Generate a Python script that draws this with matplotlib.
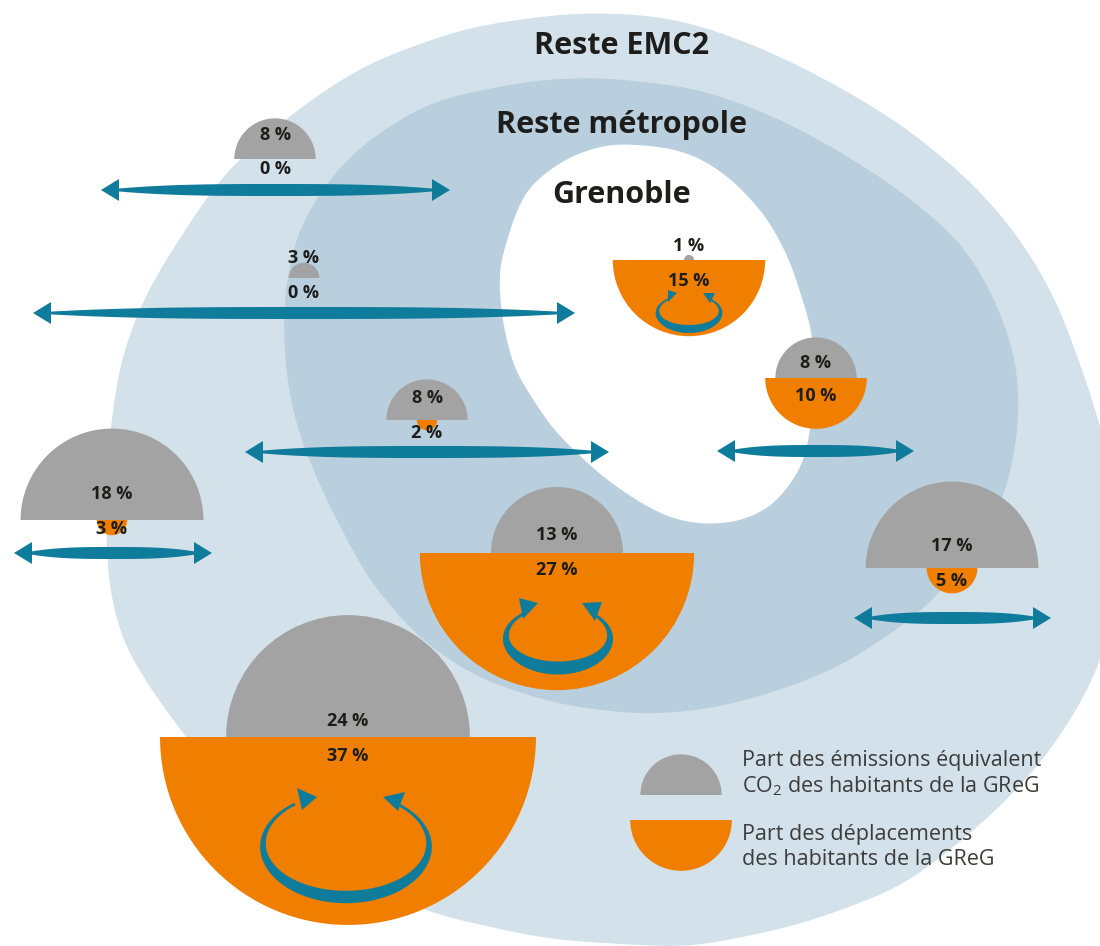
import numpy as np
import matplotlib
matplotlib.use("Agg")
import matplotlib.pyplot as plt
from matplotlib.patches import Wedge, Polygon

plt.rcParams['font.family'] = ['Open Sans', 'DejaVu Sans']
plt.rcParams['mathtext.default'] = 'regular'

# Data: share of CO2-eq emissions and share of trips per flow
flows = ['EMC2-Gre_far', 'EMC2-Gre', 'Gre-Gre', 'Met-Gre', 'Met-Gre2', 'Met-EMC2', 'Met-Met', 'EMC2-Met', 'EMC2-EMC2']
emissions = [8, 3, 1, 8, 8, 18, 13, 17, 24]
trips = [0, 0, 15, 10, 2, 3, 27, 5, 37]

# Layout (pixel coordinates)
R_PER_PCT = 5.08
center_x = [275, 304, 689, 816, 427, 112, 557, 952, 348]
center_y = [159, 278, 260, 378, 420, 520, 553, 568, 737]
label_top_y = [135, 258, 246, 363, 398, 494, 535, 546, 721]
label_bot_y = [169, 293, 281, 396, 433, 529, 570, 581, 756]

arrow_left = [101, 33, 245, 717, 14, 854]
arrow_right = [450, 575, 609, 914, 212, 1051]
arrow_y = [190, 313, 452, 451, 553, 618]

loop_cx = [346, 558, 689]
loop_cy = [845, 637, 312]
loop_a = [83, 52, 31.5]
loop_b = [52, 31, 17]
loop_half = [6.2, 6.5, 4.0]
loop_left_head = [[(-29, -48), (-49, -57), (-44, -35)], [(-20, -34), (-39, -39), (-35, -18)], [(-12, -19), (-21, -22), (-21, -10)]]
loop_right_head = [[(37, -48), (59, -53), (52, -34)], [(24, -34), (44, -35), (37, -16)], [(14, -19), (26, -19), (21, -9)]]

outer_blob = [(567, 13), (620, 13), (667, 17), (700, 25), (767, 50), (833, 83), (900, 123), (967, 177), (1017, 233),
              (1057, 300), (1093, 400), (1112, 470), (1118, 540), (1115, 610), (1100, 667), (1073, 717), (1040, 765),
              (987, 820), (903, 887), (800, 925), (690, 948), (550, 940), (427, 913), (295, 850), (215, 775),
              (163, 707), (122, 645), (107, 580), (106, 500), (109, 437), (120, 360), (142, 300), (170, 253),
              (223, 173), (300, 107), (367, 63), (467, 27)]
middle_blob = [(600, 77), (697, 88), (767, 113), (833, 147), (900, 190), (960, 240), (993, 293), (1017, 360), (1020, 420),
               (1007, 493), (975, 550), (937, 597), (907, 623), (840, 667), (773, 693), (707, 710), (640, 715),
               (560, 705), (480, 680), (420, 640), (368, 580), (320, 487), (296, 427), (285, 370), (283, 300),
               (296, 233), (327, 180), (367, 140), (433, 100), (533, 80)]
inner_blob = [(610, 143), (667, 147), (700, 157), (733, 180), (767, 217), (790, 260), (813, 333), (815, 390), (810, 433),
              (803, 467), (773, 507), (740, 522), (707, 525), (673, 520), (640, 503), (600, 475), (553, 430),
              (514, 370), (502, 320), (498, 270), (514, 217), (527, 187), (567, 157)]

LIGHT, MID = '#D3E1EA', '#B9CFDD'
GREY, ORANGE, TEAL = '#A3A3A3', '#F07F00', '#0F7C9C'
DARK = '#1D1D1B'


def smooth_outline(points, sigma):
    """Resample a closed outline evenly (1 px steps) and smooth it with a circular Gaussian."""
    p = np.array(points + points[:1], float)
    seg = np.hypot(*np.diff(p, axis=0).T)
    s = np.r_[0, np.cumsum(seg)]
    grid = np.arange(0, s[-1], 1.0)
    x = np.interp(grid, s, p[:, 0])
    y = np.interp(grid, s, p[:, 1])
    k = np.arange(-int(4 * sigma), int(4 * sigma) + 1)
    w = np.exp(-0.5 * (k / sigma) ** 2)
    w /= w.sum()
    n = len(k) // 2
    xs = np.convolve(np.r_[x[-n:], x, x[:n]], w, mode='valid')
    ys = np.convolve(np.r_[y[-n:], y, y[:n]], w, mode='valid')
    return np.c_[xs, ys]


def double_arrow(ax, x0, x1, y):
    head_l, head_h = 18, 11
    xs = np.linspace(x0 + head_l - 2, x1 - head_l + 2, 80)
    t = (xs - xs[0]) / (xs[-1] - xs[0])
    half = 1.3 + 4.7 * (1 - np.abs(2 * t - 1) ** 3)
    ax.fill(np.r_[xs, xs[::-1]], np.r_[y - half, (y + half)[::-1]], color=TEAL, lw=0, zorder=5)
    ax.add_patch(Polygon([(x0, y), (x0 + head_l, y - head_h), (x0 + head_l, y + head_h)], color=TEAL, lw=0, zorder=5))
    ax.add_patch(Polygon([(x1, y), (x1 - head_l, y - head_h), (x1 - head_l, y + head_h)], color=TEAL, lw=0, zorder=5))


def loop_arrow(ax, cx, cy, a, b, h, left, right):
    ang = np.radians(np.linspace(232, -52, 200))
    xs = cx + a * np.cos(ang)
    ys = cy + b * np.sin(ang)
    u = np.linspace(0, 1, 200)
    half = h * (0.22 + 0.78 * np.sin(np.pi * u) ** 2)
    dx, dy = np.gradient(xs), np.gradient(ys)
    nrm = np.hypot(dx, dy)
    nx, ny = -dy / nrm, dx / nrm
    ax.fill(np.r_[xs + nx * half, (xs - nx * half)[::-1]],
            np.r_[ys + ny * half, (ys - ny * half)[::-1]], color=TEAL, lw=0, zorder=5)
    for tri in (left, right):
        ax.add_patch(Polygon([(cx + px, cy + py) for px, py in tri], color=TEAL, lw=0, zorder=5))


fig = plt.figure(figsize=(11, 9.46), dpi=100)
ax = fig.add_axes([0, 0, 1, 1])
ax.set_xlim(0, 1100)
ax.set_ylim(946, 0)
ax.axis('off')

ax.add_patch(Polygon(smooth_outline(outer_blob, 28), fc=LIGHT, ec='none', zorder=1))
ax.add_patch(Polygon(smooth_outline(middle_blob, 24), fc=MID, ec='none', zorder=2))
ax.add_patch(Polygon(smooth_outline(inner_blob, 16), fc='white', ec='none', zorder=3))

for e, t, cx, cy, ly0, ly1 in zip(emissions, trips, center_x, center_y, label_top_y, label_bot_y):
    ax.add_patch(Wedge((cx, cy), e * R_PER_PCT, 180, 360, fc=GREY, ec='none', zorder=4))
    if t > 0:
        ax.add_patch(Wedge((cx, cy), t * R_PER_PCT, 0, 180, fc=ORANGE, ec='none', zorder=4.5))
    ax.text(cx, ly0, f'{e} %', ha='center', va='center', fontsize=13, fontweight='bold', color=DARK, zorder=7)
    ax.text(cx, ly1, f'{t} %', ha='center', va='center', fontsize=13, fontweight='bold', color=DARK, zorder=7)

for x0, x1, y in zip(arrow_left, arrow_right, arrow_y):
    double_arrow(ax, x0, x1, y)
for cx, cy, a, b, h, lh, rh in zip(loop_cx, loop_cy, loop_a, loop_b, loop_half, loop_left_head, loop_right_head):
    loop_arrow(ax, cx, cy, a, b, h, lh, rh)

region_names = ['Reste EMC2', 'Reste métropole', 'Grenoble']
region_x = [622, 622, 622]
region_y = [46, 125, 195]
for name, x, y in zip(region_names, region_x, region_y):
    ax.text(x, y, name, ha='center', va='center', fontsize=22, fontweight='bold', color=DARK, zorder=7)

# Legend
ax.add_patch(Wedge((681, 795), 8 * R_PER_PCT, 180, 360, fc=GREY, ec='none', zorder=4))
ax.add_patch(Wedge((681, 820), 10 * R_PER_PCT, 0, 180, fc=ORANGE, ec='none', zorder=4))
legend_lines = ['Part des émissions équivalent', 'CO$_2$ des habitants de la GReG',
                'Part des déplacements', 'des habitants de la GReG']
legend_y = [760, 786, 834, 859]
for line, y in zip(legend_lines, legend_y):
    ax.text(742, y, line, ha='left', va='center', fontsize=15.5, color='#3C3C3B', zorder=7)

fig.savefig('out.png', dpi=100)
